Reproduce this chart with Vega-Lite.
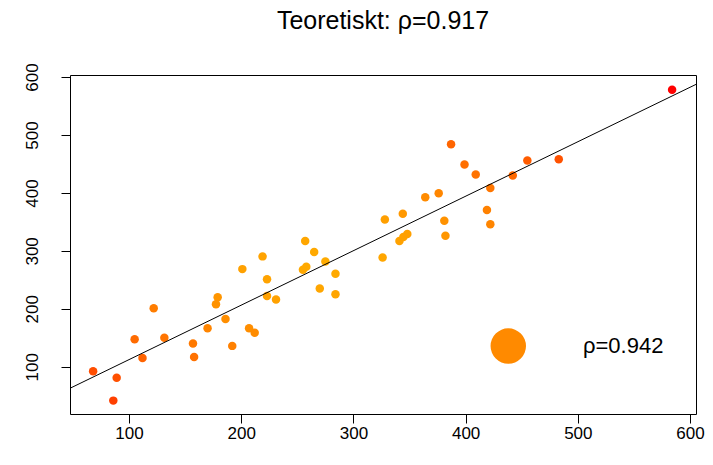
{
  "$schema": "https://vega.github.io/schema/vega-lite/v6.json",
  "width": 626,
  "height": 339,
  "autosize": {"type": "none"},
  "padding": {"left": 70, "top": 75, "right": 17, "bottom": 51},
  "background": "white",
  "title": {
    "text": "Teoretiskt: ρ=0.917",
    "font": "Liberation Sans",
    "fontSize": 25,
    "fontWeight": "normal",
    "color": "black",
    "anchor": "middle",
    "baseline": "alphabetic",
    "offset": 9
  },
  "config": {
    "view": {"stroke": "black", "strokeWidth": 1},
    "axis": {
      "grid": false,
      "domain": false,
      "title": null,
      "labelFont": "Liberation Sans",
      "labelFontSize": 17,
      "labelColor": "black",
      "tickColor": "black",
      "tickSize": 9,
      "tickWidth": 1
    }
  },
  "datasets": {
    "pts": [
      {"x": 68, "y": 92, "d": 2.27},
      {"x": 89, "y": 81, "d": 2.21},
      {"x": 86, "y": 41.5, "d": 2.46},
      {"x": 105, "y": 147.6, "d": 1.75},
      {"x": 112, "y": 115, "d": 1.88},
      {"x": 122, "y": 201, "d": 1.41},
      {"x": 131.5, "y": 150, "d": 1.58},
      {"x": 157, "y": 140, "d": 1.49},
      {"x": 158, "y": 117, "d": 1.63},
      {"x": 170, "y": 166.5, "d": 1.26},
      {"x": 179, "y": 220, "d": 0.94},
      {"x": 177.5, "y": 208, "d": 1.0},
      {"x": 186, "y": 182.5, "d": 1.08},
      {"x": 192, "y": 136, "d": 1.35},
      {"x": 201, "y": 268.5, "d": 0.64},
      {"x": 207, "y": 166.5, "d": 1.08},
      {"x": 212, "y": 158.5, "d": 1.11},
      {"x": 219, "y": 290.5, "d": 0.5},
      {"x": 223, "y": 251, "d": 0.51},
      {"x": 223, "y": 222, "d": 0.64},
      {"x": 231, "y": 216, "d": 0.64},
      {"x": 257, "y": 317, "d": 0.36},
      {"x": 265, "y": 298, "d": 0.2},
      {"x": 255, "y": 267.5, "d": 0.22},
      {"x": 258, "y": 272.5, "d": 0.18},
      {"x": 275, "y": 281.5, "d": 0.05},
      {"x": 284, "y": 260.5, "d": 0.15},
      {"x": 270, "y": 235, "d": 0.36},
      {"x": 284, "y": 225, "d": 0.43},
      {"x": 328, "y": 354, "d": 0.72},
      {"x": 326, "y": 288.5, "d": 0.38},
      {"x": 344, "y": 364, "d": 0.86},
      {"x": 341, "y": 317, "d": 0.58},
      {"x": 344.5, "y": 324, "d": 0.63},
      {"x": 348, "y": 329, "d": 0.68},
      {"x": 364, "y": 392.5, "d": 1.14},
      {"x": 376, "y": 399.5, "d": 1.24},
      {"x": 381, "y": 352, "d": 1.0},
      {"x": 382, "y": 326, "d": 0.9},
      {"x": 387, "y": 484, "d": 1.86},
      {"x": 399, "y": 449, "d": 1.67},
      {"x": 409, "y": 432, "d": 1.61},
      {"x": 422, "y": 408.5, "d": 1.55},
      {"x": 419, "y": 370.5, "d": 1.34},
      {"x": 422, "y": 346, "d": 1.26},
      {"x": 442, "y": 430, "d": 1.78},
      {"x": 455, "y": 456, "d": 2.0},
      {"x": 483, "y": 458, "d": 2.18},
      {"x": 584, "y": 578, "d": 3.43}
    ],
    "fit": [
      {"x": 47.4, "y": 62.8},
      {"x": 605.3, "y": 587.4}
    ],
    "mean": [
      {"x": 438, "y": 135.7}
    ],
    "note": [
      {"x": 504.6, "y": 136.5, "label": "ρ=0.942"}
    ]
  },
  "encoding": {
    "x": {
      "field": "x",
      "type": "quantitative",
      "scale": {"domain": [47.4, 605.3], "nice": false, "zero": false},
      "axis": {"values": [100, 200, 300, 400, 500, 600], "labelPadding": 2, "labelAngle": 0}
    },
    "y": {
      "field": "y",
      "type": "quantitative",
      "scale": {"domain": [18.4, 603.6], "nice": false, "zero": false},
      "axis": {"values": [100, 200, 300, 400, 500, 600], "labelAngle": -90, "labelAlign": "center", "labelBaseline": "alphabetic", "labelPadding": 24}
    }
  },
  "layer": [
    {
      "data": {"name": "pts"},
      "mark": {"type": "circle", "size": 72, "opacity": 1},
      "encoding": {
        "color": {
          "field": "d",
          "type": "quantitative",
          "scale": {
            "domain": [0, 0.7, 1.35, 2.0, 2.46, 3.43],
            "range": ["#FFAC00", "#FFA000", "#FF8000", "#FF5C00", "#FF4000", "#FF0000"]
          },
          "legend": null
        }
      }
    },
    {
      "data": {"name": "mean"},
      "mark": {"type": "circle", "size": 1257, "opacity": 1, "color": "#FF8A00"}
    },
    {
      "data": {"name": "note"},
      "mark": {"type": "text", "align": "left", "baseline": "middle", "font": "Liberation Sans", "fontSize": 22, "color": "black"},
      "encoding": {"text": {"field": "label"}}
    },
    {
      "data": {"name": "fit"},
      "mark": {"type": "line", "color": "black", "strokeWidth": 1, "clip": true},
      "encoding": {}
    }
  ]
}
